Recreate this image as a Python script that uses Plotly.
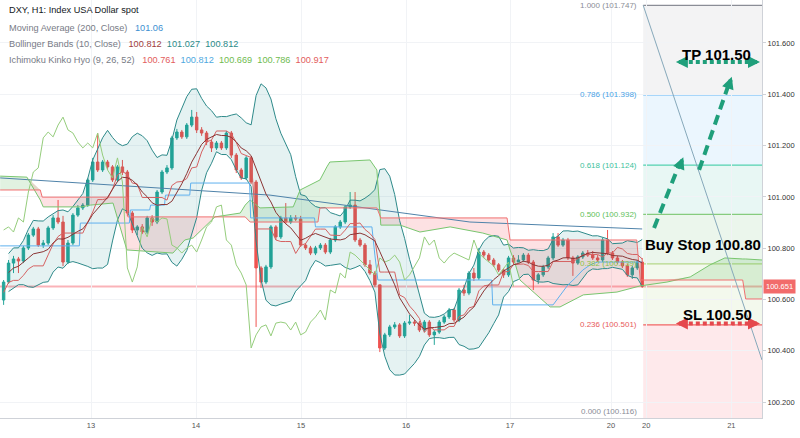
import numpy as np
import pandas as pd
import plotly.graph_objects as go

# ---------------- data ----------------
first_open = 100.598
closes = [100.668, 100.742, 100.758, 100.750, 100.801, 100.851, 100.875, 100.812, 100.820, 100.879,
          100.918, 100.902, 100.746, 100.820, 100.929, 100.957, 100.968, 101.066, 101.136, 101.105,
          101.136, 101.117, 101.066, 101.117, 101.097, 100.937, 100.871, 100.883, 100.863, 100.918,
          100.902, 101.019, 101.097, 101.113, 101.230, 101.253, 101.234, 101.280, 101.311, 101.261,
          101.249, 101.214, 101.191, 101.210, 101.191, 101.249, 101.163, 101.105, 101.074, 101.152,
          101.058, 100.723, 100.668, 100.727, 100.883, 100.844, 100.918, 100.902, 100.918, 100.914,
          100.812, 100.801, 100.781, 100.801, 100.812, 100.785, 100.832, 100.883, 100.902, 100.961,
          100.968, 100.832, 100.812, 100.735, 100.703, 100.657, 100.411, 100.462, 100.493, 100.501,
          100.458, 100.508, 100.512, 100.508, 100.481, 100.512, 100.462, 100.473, 100.512, 100.532,
          100.559, 100.520, 100.637, 100.625, 100.703, 100.684, 100.785, 100.773, 100.754, 100.735,
          100.715, 100.696, 100.762, 100.746, 100.754, 100.773, 100.746, 100.676, 100.696, 100.727,
          100.762, 100.844, 100.812, 100.832, 100.762, 100.742, 100.766, 100.781, 100.773, 100.762,
          100.754, 100.832, 100.781, 100.762, 100.746, 100.731, 100.696, 100.723, 100.746, 100.651]
highs = [100.676, 100.754, 100.770, 100.766, 100.809, 100.859, 100.883, 100.883, 100.832, 100.887,
         100.929, 100.988, 100.926, 100.832, 100.937, 100.968, 100.976, 101.074, 101.152, 101.249,
         101.144, 101.144, 101.124, 101.124, 101.144, 101.105, 100.945, 100.890, 100.894, 100.926,
         100.929, 101.027, 101.105, 101.124, 101.238, 101.265, 101.261, 101.288, 101.339, 101.331,
         101.272, 101.257, 101.222, 101.218, 101.218, 101.257, 101.257, 101.171, 101.113, 101.159,
         101.159, 101.066, 100.730, 100.735, 100.890, 100.890, 100.926, 100.976, 100.929, 100.929,
         100.926, 100.820, 100.809, 100.809, 100.820, 100.820, 100.840, 100.890, 100.910, 100.968,
         101.019, 101.019, 100.840, 100.820, 100.754, 100.711, 100.657, 100.470, 100.501, 100.512,
         100.508, 100.516, 100.540, 100.520, 100.516, 100.520, 100.520, 100.481, 100.520, 100.540,
         100.567, 100.567, 100.645, 100.657, 100.711, 100.723, 100.801, 100.793, 100.781, 100.762,
         100.742, 100.723, 100.770, 100.773, 100.773, 100.781, 100.781, 100.754, 100.703, 100.735,
         100.770, 100.859, 100.859, 100.840, 100.840, 100.770, 100.773, 100.789, 100.793, 100.789,
         100.773, 100.840, 100.871, 100.789, 100.770, 100.754, 100.738, 100.731, 100.754, 100.762]
lows = [100.579, 100.661, 100.703, 100.703, 100.742, 100.793, 100.844, 100.805, 100.801, 100.812,
        100.871, 100.894, 100.730, 100.738, 100.812, 100.922, 100.949, 100.961, 101.058, 101.097,
        101.097, 101.105, 101.058, 101.058, 101.085, 100.926, 100.859, 100.851, 100.855, 100.855,
        100.887, 100.894, 101.011, 101.089, 101.105, 101.222, 101.226, 101.226, 101.272, 101.249,
        101.238, 101.202, 101.175, 101.183, 101.183, 101.183, 101.152, 101.093, 101.066, 101.066,
        101.050, 100.493, 100.645, 100.660, 100.719, 100.832, 100.836, 100.894, 100.894, 100.906,
        100.805, 100.793, 100.773, 100.773, 100.793, 100.777, 100.777, 100.824, 100.875, 100.894,
        100.953, 100.824, 100.805, 100.727, 100.696, 100.649, 100.395, 100.403, 100.454, 100.485,
        100.450, 100.450, 100.501, 100.497, 100.473, 100.473, 100.454, 100.423, 100.466, 100.505,
        100.524, 100.512, 100.512, 100.614, 100.617, 100.672, 100.676, 100.762, 100.746, 100.727,
        100.707, 100.684, 100.688, 100.738, 100.746, 100.746, 100.738, 100.637, 100.660, 100.688,
        100.719, 100.754, 100.805, 100.805, 100.754, 100.692, 100.735, 100.758, 100.766, 100.754,
        100.746, 100.746, 100.773, 100.754, 100.738, 100.723, 100.688, 100.680, 100.715, 100.645]
opens = [first_open] + closes[:-1]
idx = list(range(len(closes)))

day_tick_pos = [17.66, 38.87, 60.08, 81.3, 102.3, 122.7, 129.8, 147.0]
day_tick_labels = ["13", "14", "15", "16", "17", "20", "20", "21"]

ma200_x = [-0.7, 53.8, 94.2, 129]
ma200_v = [101.074, 101.007, 100.902, 100.875]

kijun_x = [-0.7, 15.3, 15.5, 25.4, 25.6, 29.5, 29.7, 32.5, 32.7, 37.6, 37.8, 49.7, 49.9, 62.8, 63.0,
           74.4, 75.0, 75.6, 98.6, 98.8, 111.0, 112.5, 114.0, 115.5, 117.0, 118.5, 120.0, 129]
kijun_v = [100.809, 100.809, 100.898, 100.898, 100.949, 100.949, 100.968, 100.968, 101.007, 101.007,
           101.054, 101.054, 100.918, 100.918, 100.883, 100.883, 100.773, 100.676, 100.676, 100.579,
           100.579, 100.618, 100.657, 100.684, 100.715, 100.735, 100.746, 100.746]

cloud_x = [-0.7, 4.7, 7.4, 7.8, 8.0, 15.8, 17.5, 22.1, 24.9, 25.1, 34.2, 36.6, 38.3, 42.7, 47.8, 48.8,
           49.8, 51.8, 58.5, 59.9, 63.5, 63.9, 65.3, 65.9, 74.0, 75.4, 76.2, 80.1, 84.1, 90.2, 96.8,
           101.7, 102.3, 103.3, 104.3, 110.4, 112.4, 117.1, 123.9, 127.9, 128.6, 134.0, 138.7, 142.7,
           145.7, 149.3, 149.9, 153.2]
span_a = [101.081, 101.077, 100.988, 100.968, 100.961, 100.961, 100.968, 100.976, 100.793, 100.793,
          100.781, 100.832, 100.840, 100.922, 100.937, 100.968, 100.988, 100.957, 100.961, 101.027,
          101.062, 101.066, 101.117, 101.136, 101.144, 101.105, 100.890, 100.890, 100.863, 100.883,
          100.859, 100.832, 100.793, 100.742, 100.676, 100.571, 100.571, 100.618, 100.629, 100.649,
          100.653, 100.668, 100.688, 100.735, 100.762, 100.758, 100.758, 100.754]
span_b = [101.027, 101.027, 101.027, 100.999, 100.999, 100.999, 100.999, 100.999, 100.999, 100.922,
          100.922, 100.922, 100.922, 100.922, 100.922, 100.922, 100.902, 100.902, 100.902, 100.902,
          100.902, 100.957, 100.957, 100.957, 100.957, 100.957, 100.918, 100.918, 100.918, 100.918,
          100.918, 100.918, 100.832, 100.832, 100.832, 100.832, 100.832, 100.832, 100.832, 100.832,
          100.676, 100.676, 100.676, 100.676, 100.676, 100.676, 100.602, 100.602]

fib_ratios = ["1.000", "0.786", "0.618", "0.500", "0.382", "0.236", "0.000"]
fib_prices = [101.747, 101.398, 101.124, 100.932, 100.739, 100.501, 100.116]
fib_start, fib_end = 129.2, 153.2
fib_trend_end = 100.364

last_price = 100.651
tp_level, sl_level = 101.526, 100.506

# ---------------- indicators ----------------
cs = pd.Series(closes)
basis = cs.rolling(10, min_periods=2).mean()
sd = cs.rolling(10, min_periods=2).std(ddof=0)
upper = basis + 2 * sd
lower = basis - 2 * sd
tenkan = (pd.Series(highs).rolling(9, min_periods=1).max() + pd.Series(lows).rolling(9, min_periods=1).min()) / 2
lag_x = idx[:-26]
lag_y = closes[26:]

a = np.array(span_a)
b = np.array(span_b)
top = np.maximum(a, b)

FONT = "Liberation Sans, Arial, sans-serif"
fig = go.Figure()

# cloud fills
fig.add_trace(go.Scatter(x=cloud_x, y=b, mode="lines", line=dict(width=0), hoverinfo="skip"))
fig.add_trace(go.Scatter(x=cloud_x, y=top, mode="lines", line=dict(width=0), fill="tonexty",
                         fillcolor="rgba(76,175,80,0.17)", hoverinfo="skip"))
fig.add_trace(go.Scatter(x=cloud_x, y=a, mode="lines", line=dict(width=0), hoverinfo="skip"))
fig.add_trace(go.Scatter(x=cloud_x, y=top, mode="lines", line=dict(width=0), fill="tonexty",
                         fillcolor="rgba(242,54,69,0.15)", hoverinfo="skip"))

# Bollinger bands
bx = idx[1:]
fig.add_trace(go.Scatter(x=bx, y=lower[1:], mode="lines", line=dict(color="#2e8a8a", width=1)))
fig.add_trace(go.Scatter(x=bx, y=upper[1:], mode="lines", line=dict(color="#2e8a8a", width=1),
                         fill="tonexty", fillcolor="rgba(0,128,128,0.10)"))

# MA 200
fig.add_trace(go.Scatter(x=ma200_x, y=ma200_v, mode="lines", line=dict(color="#4f83aa", width=1)))
# spans
fig.add_trace(go.Scatter(x=cloud_x, y=span_a, mode="lines", line=dict(color="#79c66f", width=1)))
fig.add_trace(go.Scatter(x=cloud_x, y=span_b, mode="lines", line=dict(color="#f07070", width=1)))
# kijun
fig.add_trace(go.Scatter(x=kijun_x, y=kijun_v, mode="lines", line=dict(color="#5fb0ee", width=1)))
# lagging
fig.add_trace(go.Scatter(x=lag_x, y=lag_y, mode="lines", line=dict(color="#95cd7c", width=1)))
# tenkan
fig.add_trace(go.Scatter(x=idx, y=tenkan, mode="lines", line=dict(color="#d56262", width=1)))
# BB basis
fig.add_trace(go.Scatter(x=bx, y=basis[1:], mode="lines", line=dict(color="#8b3535", width=1)))

# candles
fig.add_trace(go.Candlestick(
    x=idx, open=opens, high=highs, low=lows, close=closes,
    increasing=dict(line=dict(color="#26a69a", width=1), fillcolor="#26a69a"),
    decreasing=dict(line=dict(color="#ef5350", width=1), fillcolor="#ef5350"),
    whiskerwidth=0))

shapes = []
annotations = []

# fib fills and lines
fib_fill = ["rgba(120,123,134,0.09)", "rgba(33,150,243,0.09)", "rgba(0,170,130,0.09)",
            "rgba(76,175,80,0.11)", "rgba(139,195,74,0.10)", "rgba(242,54,69,0.11)"]
fib_line = ["#8a8d96", "#64b5f6", "#55d2b0", "#86cc7e", "#b5d88a", "#f26464", "#8a8d96"]
fib_text = ["#8a8d96", "#4aa3e6", "#3cc29c", "#62bf5a", "#8bc34a", "#e85a5a", "#8a8d96"]
for i in range(6):
    shapes.append(dict(type="rect", xref="x", yref="y", x0=fib_start, x1=fib_end,
                       y0=fib_prices[i + 1], y1=fib_prices[i], fillcolor=fib_fill[i],
                       line=dict(width=0), layer="below"))
for i in range(7):
    shapes.append(dict(type="line", xref="x", yref="y", x0=fib_start, x1=fib_end,
                       y0=fib_prices[i], y1=fib_prices[i], line=dict(color=fib_line[i], width=1.3),
                       layer="below"))
    if i < 6:
        annotations.append(dict(x=fib_start, y=fib_prices[i], xref="x", yref="y", xanchor="right",
                                yanchor="middle", xshift=-4, showarrow=False,
                                text=f"{fib_ratios[i]} ({fib_prices[i]:.3f})",
                                font=dict(family=FONT, size=8, color=fib_text[i])))
annotations.append(dict(x=fib_start, y=0, xref="x", yref="paper", xanchor="right", yanchor="bottom",
                        xshift=-4, yshift=0, showarrow=False,
                        text=f"{fib_ratios[6]} ({fib_prices[6]:.3f})",
                        font=dict(family=FONT, size=8, color=fib_text[6])))
# fib trend line
shapes.append(dict(type="line", xref="x", yref="y", x0=fib_start, y0=fib_prices[0], x1=fib_end,
                   y1=fib_trend_end, line=dict(color="#86a8ba", width=1)))
# last price line
shapes.append(dict(type="line", xref="paper", yref="y", x0=0, x1=1, y0=last_price, y1=last_price,
                   line=dict(color="rgba(242,54,69,0.38)", width=2), layer="below"))

GREEN = "#1f9f7b"
RED = "#e5484d"
# dashed trend arrows
shapes.append(dict(type="line", xref="x", yref="y", x0=131.4, y0=100.879, x1=136.6, y1=101.132,
                   line=dict(color=GREEN, width=4, dash="10px,6px")))
shapes.append(dict(type="line", xref="x", yref="y", x0=140.5, y0=101.105, x1=146.5, y1=101.440,
                   line=dict(color=GREEN, width=4, dash="10px,6px")))
for (hx, hy, dx, dy) in [(137.3, 101.155, -3.8, 9.3), (147.1, 101.468, -3.3, 9.4)]:
    annotations.append(dict(x=hx, y=hy, xref="x", yref="y", ax=dx, ay=dy, showarrow=True,
                            arrowhead=2, arrowsize=0.6, arrowwidth=4, arrowcolor=GREEN, text=""))
# TP / SL double arrows
for lvl, col in [(tp_level, GREEN), (sl_level, RED)]:
    shapes.append(dict(type="line", xref="x", yref="y", x0=137.0, x1=151.6, y0=lvl, y1=lvl,
                       line=dict(color=col, width=4, dash="4px,3px")))
    annotations.append(dict(x=135.8, y=lvl, xref="x", yref="y", ax=10, ay=0, showarrow=True,
                            arrowhead=2, arrowsize=0.6, arrowwidth=4, arrowcolor=col, text=""))
    annotations.append(dict(x=152.8, y=lvl, xref="x", yref="y", ax=-10, ay=0, showarrow=True,
                            arrowhead=2, arrowsize=0.6, arrowwidth=4, arrowcolor=col, text=""))

for txt, xx, yy in [("TP 101.50", 144.1, 101.557), ("Buy Stop 100.80", 141.3, 100.816),
                    ("SL 100.50", 144.3, 100.543)]:
    annotations.append(dict(x=xx, y=yy, xref="x", yref="y", showarrow=False, text=f"<b>{txt}</b>",
                            font=dict(family=FONT, size=15, color="#000000")))

# price label on axis
annotations.append(dict(x=1, y=last_price, xref="paper", yref="y", xanchor="left", yanchor="middle",
                        xshift=1, showarrow=False, text="100.651", bgcolor="#f26b6b", borderpad=2,
                        font=dict(family=FONT, size=7.5, color="#ffffff")))

# header legend
GRAY = "#787b86"
rows = [
    ('<span style="color:#131722">DXY, H1: Index USA Dollar spot</span>', 10),
    ('Moving Average (200, Close)&nbsp;&nbsp; <span style="color:#3d8fd1">101.06</span>', 28),
    ('Bollinger Bands (10, Close)&nbsp;&nbsp; <span style="color:#a13d3d">100.812</span>&nbsp; '
     '<span style="color:#2b8a88">101.027</span>&nbsp; <span style="color:#2b8a88">100.812</span>', 44),
    ('Ichimoku Kinko Hyo (9, 26, 52)&nbsp;&nbsp; <span style="color:#e35d5d">100.761</span>&nbsp; '
     '<span style="color:#4ea8e0">100.812</span>&nbsp; <span style="color:#6fbb4f">100.669</span>&nbsp; '
     '<span style="color:#6fbb4f">100.786</span>&nbsp; <span style="color:#e35d5d">100.917</span>', 60),
]
for txt, py in rows:
    annotations.append(dict(x=7 / 762, y=1 - py / 418, xref="paper", yref="paper", xanchor="left",
                            yanchor="middle", showarrow=False, text=txt,
                            font=dict(family=FONT, size=9.2, color=GRAY)))

fig.update_layout(
    width=800, height=438, margin=dict(l=0, r=38, t=0, b=20),
    paper_bgcolor="#ffffff", plot_bgcolor="#ffffff", showlegend=False,
    shapes=shapes, annotations=annotations,
    xaxis=dict(range=[-0.73, 153.2], tickvals=day_tick_pos, ticktext=day_tick_labels,
               tickfont=dict(family=FONT, size=7.5, color="#555555"), showgrid=True,
               gridcolor="#f1f3f6", zeroline=False, showline=True, linecolor="#cfd2d8",
               ticks="", rangeslider=dict(visible=False), fixedrange=True),
    yaxis=dict(side="right", range=[100.138, 101.7676],
               tickvals=[100.2, 100.4, 100.6, 100.8, 101.0, 101.2, 101.4, 101.6],
               ticktext=["100.200", "100.400", "100.600", "100.800", "101.000", "101.200", "101.400", "101.600"],
               tickfont=dict(family=FONT, size=7.5, color="#333333"), showgrid=True,
               gridcolor="#f1f3f6", zeroline=False, showline=True, linecolor="#cfd2d8",
               ticks="outside", ticklen=3, tickcolor="#cfd2d8"),
)

fig.write_html("out.html")
